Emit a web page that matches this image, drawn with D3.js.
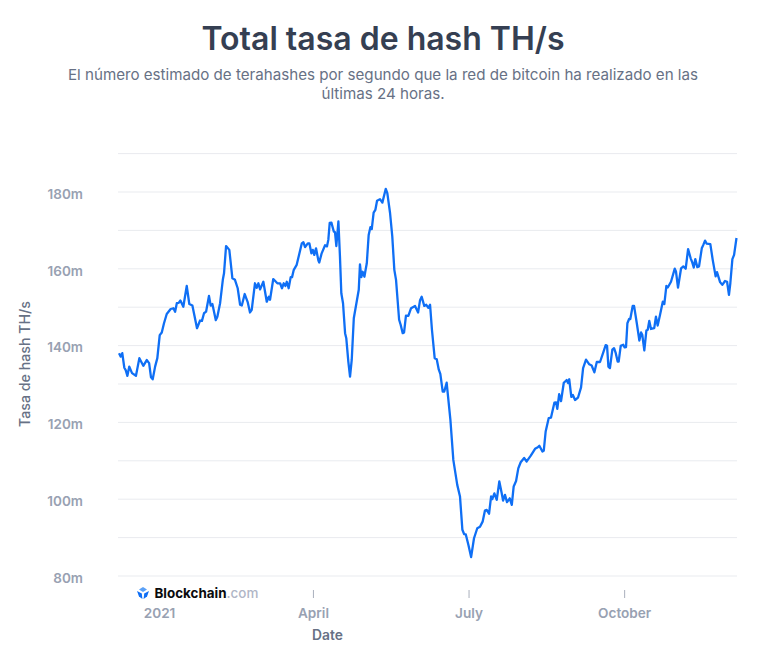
<!DOCTYPE html>
<html><head><meta charset="utf-8">
<script src="https://cdnjs.cloudflare.com/ajax/libs/d3/7.8.5/d3.min.js"></script>
<style>html,body{margin:0;padding:0;background:#fff}svg{display:block}text{font-family:Inter,"Noto Sans",sans-serif}</style>
</head><body><svg id="c" width="762" height="660"></svg>
<script>
const titleText = "Total tasa de hash TH/s";
const subtitleLines = ["El número estimado de terahashes por segundo que la red de bitcoin ha realizado en las","últimas 24 horas."];
const yAxisTitle = "Tasa de hash TH/s";
const xAxisTitle = "Date";
const tickDays = [0,90,181,272];
const tickLabels = ["2021","April","July","October"];
const gridValues = [80,90,100,110,120,130,140,150,160,170,180,190];
const labelledValues = [80,100,120,140,160,180];
// days since 2021-01-01
const days = [-23.4,-22.4,-21.5,-20.3,-19.5,-18.5,-17.4,-15.8,-13.5,-11.5,-9.2,-7.2,-5.8,-4.7,-3.7,-2.3,-1,0.4,1.6,2.9,4.5,6.8,8.4,9.4,10.4,11.5,12.5,14.2,16.2,17.7,19.5,20.6,22.2,24,25.1,26.3,27.5,29.2,30.2,31.2,33.2,34.1,35.7,37.3,38,39.2,41.1,42.9,44.4,46,47.4,48.4,50.1,51.9,53.2,54.2,56.1,57.1,58.1,59.1,61,63,64.2,64.9,66.8,69.2,70.8,71.9,72.9,73.9,74.7,75.8,77,77.8,78.8,80.5,83.5,84.4,85.4,87,87.9,89.1,89.9,90.8,91.8,93.2,93.7,95.1,97.1,98.2,99,99.8,100.8,102.2,102.9,103.7,104.9,105.8,106.6,107.6,108.8,109.5,110.7,111.7,112.7,113.9,116.8,117.5,118.3,119.1,120.1,120.6,121.5,122.6,123.6,124.4,125.5,126.5,127.5,129.2,130.6,132.6,133.5,135.1,136.4,137.6,138.6,140.4,141.3,142.5,143.3,144.4,145.8,147.4,149.7,151.5,152.6,153.6,155.1,156.3,157.5,158.5,159.6,161.2,162.4,163.6,164.5,165.9,166.8,168.2,170.4,172.1,174.4,176,177.4,178.4,179.4,180.9,182.5,184.2,186.1,187.7,189.3,190.6,191.6,193,194.2,194.9,196.1,197.5,199,200.4,201.2,202.3,203.5,205.1,206.3,207.4,208.8,210.1,211.5,213.5,215,217.4,219.9,221.5,222.4,224.2,225,226.1,227.9,229.2,231.2,232.2,232.9,234,235.1,236.7,238.4,239.2,239.9,241.1,242,243.3,245,246.8,248,249.7,251.6,253,254.6,256,257.9,259.8,261.2,262,262.8,263.7,265.1,266.1,267.1,268.2,268.8,270,271.5,272.3,273.1,273.9,274.9,275.6,277,277.8,279.4,280.9,281.9,282.6,283.8,285,285.8,286.7,287.7,289.6,290.6,291.6,293,294.6,295.5,296.7,297.5,299.4,301.6,302.3,303.5,305.3,306.6,308,309.4,310.9,311.7,312.7,313.6,314.8,315.8,317.4,318.3,319.3,320.3,322.4,323.8,325.5,326.3,328.1,329.4,331,332.2,333.3,334.1,335.3,336.3,337.7];
// hash rate, millions of TH/s
const hashRate = [137.9,137,137.9,134.1,133.5,132,134.4,132.7,132,136.6,134.6,136.1,135.3,131.6,131.1,134.4,136.6,142.6,143.3,145.7,148.1,149.4,149.6,148.7,150.9,151,151.6,150,155.4,150.7,150.3,147.9,144.4,146.4,146.3,148.3,148.7,152.8,150.3,150.7,146.5,147.4,150.9,157,158.7,165.8,164.8,157.4,157,154.8,150.5,150.3,153.3,151.1,148.5,149.2,156.1,154.9,156.1,154.5,156.5,151.3,152.6,151.8,157.2,156.1,156.1,154.8,156.1,155.4,156.5,154.8,157.7,157.7,159.6,160.9,166.5,166.8,165.5,166.5,166.5,163.9,164.8,163.5,165.2,162,161.5,163.9,166,165.7,167.4,171.8,171.9,169.6,169.4,165.8,172.2,163.1,153.5,150.9,143.1,141.8,135.7,131.8,136.2,147,154.4,161,157.7,159.1,157.8,159.1,161.3,168.7,170.7,170.2,174.5,175.2,177.6,178,177.1,180.7,179.6,174.4,168.3,159.6,157,146.6,145.3,143.1,143.3,147.7,147.6,149.6,150.2,148.5,151.6,152.6,150.2,150.5,149.7,150.5,144,136.6,136.3,133.6,132.5,127.9,127.9,130.2,120.5,110.1,103.6,100.6,91.9,90.8,90.7,88,84.8,89.7,92.3,92.7,94.1,96.9,97.1,96.1,100.6,99.9,101.4,99.7,104.5,101.4,99.5,101,99.1,100.1,98.4,103.2,104.6,107.9,109.5,110.6,109.7,111.2,113,113.4,113.8,112.3,112.5,117.5,121,121.1,125,125.1,123.4,127.2,125.4,130.2,130.9,130.1,131.1,126.5,127,125.7,126.3,129,134,136.2,135,134.7,132.9,135.6,135.6,138.1,140,139.8,134.4,134,138.8,139.2,137.9,135.7,135.7,139.8,140.1,139.4,139.5,145.7,146.8,146.8,150.2,150.2,145.7,141.2,143.3,142.7,138.6,143.8,144,146.3,144.2,144.4,147.4,145.1,147.9,151.3,150.7,155.4,155,156.5,159.9,159.2,155,160,160.5,159.9,165,162.6,161.7,160.2,162.4,160.3,160.5,165.2,166.1,167.2,166.4,166.3,162.2,157.9,159,156.4,155.7,156.7,156.5,153.1,156.1,162.4,163.5,167.9];

const svg = d3.select("#c");
const x = d3.scaleLinear().domain([-24,338]).range([118,737]);
const y = d3.scaleLinear().domain([80,190]).range([575.5,153.1]);

// gridlines
const grid = svg.append("g").attr("transform","translate(118,0)")
  .call(d3.axisLeft(y).tickValues(gridValues).tickSize(-619).tickFormat(""));
grid.select(".domain").remove();
grid.selectAll("line").attr("stroke","#e9ebef").attr("stroke-width",1);

// y labels
const yl = svg.append("g").attr("transform","translate(83,0)")
  .call(d3.axisLeft(y).tickValues(labelledValues).tickSize(0).tickPadding(0).tickFormat(d=>d+"m"));
yl.select(".domain").remove();
yl.selectAll("text").attr("fill","#98a1b2").attr("font-size",13.5).attr("font-weight",600)
  .style("font-family","Inter,sans-serif").attr("dy","0.5em");

// x axis
const xa = svg.append("g").attr("transform","translate(0,590)")
  .call(d3.axisBottom(x).tickValues(tickDays).tickSize(8).tickPadding(10).tickFormat((d,i)=>tickLabels[i]));
xa.select(".domain").remove();
xa.selectAll("line").attr("stroke","#a9afbc").attr("stroke-width",1);
xa.selectAll("text").attr("fill","#98a1b2").attr("font-size",13.6).attr("font-weight",600)
  .style("font-family","Inter,sans-serif");

// line
const pts = days.map((d,i)=>[d,hashRate[i]]);
svg.append("path").datum(pts).attr("fill","none").attr("stroke","#0f6ff5").attr("stroke-width",2.3)
  .attr("stroke-linejoin","round").attr("d",d3.line().x(d=>x(d[0])).y(d=>y(d[1])));

// titles
svg.append("text").attr("x",383).attr("y",49.5).attr("text-anchor","middle").attr("font-size",32)
  .attr("font-weight",600).attr("fill","#353f52").text(titleText);
svg.selectAll("text.sub").data(subtitleLines).join("text").attr("class","sub").attr("x",383)
  .attr("y",(d,i)=>80+i*19).attr("text-anchor","middle").attr("font-size",15.15).attr("fill","#677185").text(d=>d);
svg.append("text").attr("transform","translate(29.5,364) rotate(-90)").attr("text-anchor","middle")
  .attr("font-size",14.2).attr("font-weight",500).attr("fill","#677185").text(yAxisTitle);
svg.append("text").attr("x",327.5).attr("y",640).attr("text-anchor","middle")
  .attr("font-size",13.8).attr("font-weight",600).attr("fill","#677185").text(xAxisTitle);

// logo
const logo = svg.append("g").attr("transform","translate(137,587)");
logo.append("rect").attr("x",-4).attr("y",-2).attr("width",130).attr("height",15).attr("fill","#fff");
logo.append("path").attr("d","M6,0 L10,2.5 L6,5 L2,2.5Z").attr("fill","#5aa0f7");
logo.append("path").attr("d","M0,4 L4.8,6.6 L5.4,12 L2,9.5Z").attr("fill","#0f6ff5");
logo.append("path").attr("d","M12,4 L7.2,6.6 L6.6,12 L10,9.5Z").attr("fill","#0f6ff5");
const lt = logo.append("text").attr("x",17.5).attr("y",11).attr("font-size",13.4).attr("font-weight",700).attr("fill","#0a0b0d");
lt.append("tspan").text("Blockchain");
lt.append("tspan").attr("fill","#b0b6c6").attr("font-weight",500).text(".com");
</script></body></html>
